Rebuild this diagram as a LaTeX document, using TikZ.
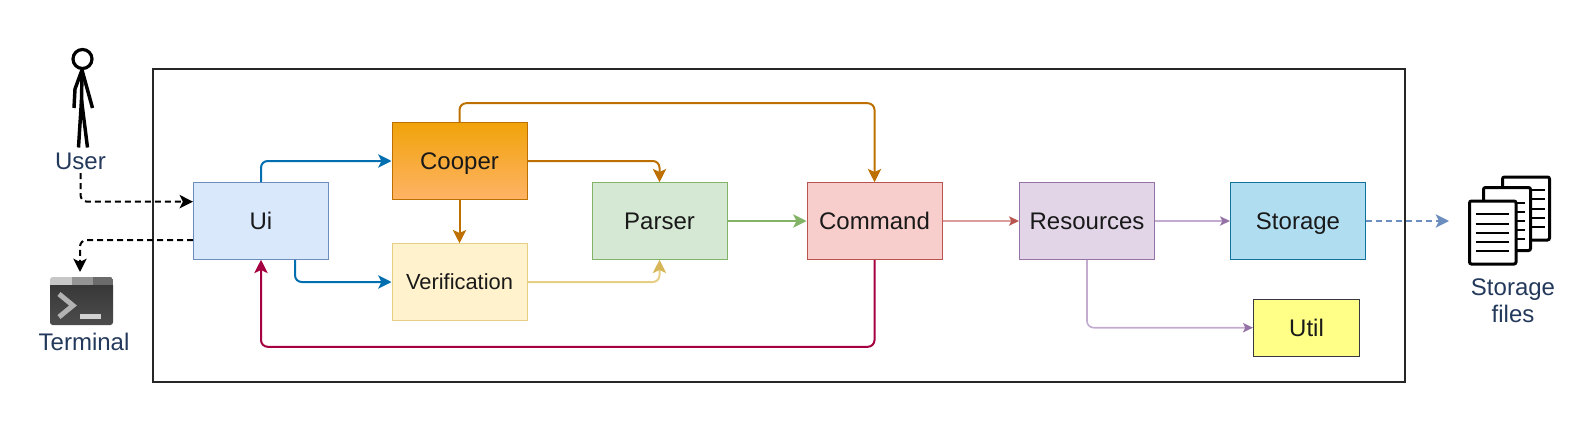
\documentclass[tikz,border=0pt]{standalone}
\usepackage{fontspec}
\setmainfont{Liberation Sans}
\usepackage{xcolor}
\usetikzlibrary{arrows.meta, calc}
\definecolor{uifill}{HTML}{DAE8FC}
\definecolor{uiline}{HTML}{6C8EBF}
\definecolor{bluelink}{HTML}{006EAF}
\definecolor{cooperline}{HTML}{BD7000}
\definecolor{coopertop}{HTML}{F0A30A}
\definecolor{cooperbot}{HTML}{FFB366}
\definecolor{verifill}{HTML}{FFF2CC}
\definecolor{veriline}{HTML}{E6CF85}
\definecolor{veritip}{HTML}{D6B656}
\definecolor{parsefill}{HTML}{D5E8D4}
\definecolor{parseline}{HTML}{82B366}
\definecolor{cmdfill}{HTML}{F8CECC}
\definecolor{cmdline}{HTML}{B85450}
\definecolor{cmdlink}{HTML}{DB9D9B}
\definecolor{redlink}{HTML}{A50040}
\definecolor{resfill}{HTML}{E1D5E7}
\definecolor{resline}{HTML}{9673A6}
\definecolor{reslink}{HTML}{C3ABCF}
\definecolor{storefill}{HTML}{B1DDF0}
\definecolor{storeline}{HTML}{10739E}
\definecolor{utilfill}{HTML}{FFFF88}
\definecolor{utilline}{HTML}{36393D}
\definecolor{outlabel}{HTML}{23395B}

\begin{document}
\begin{tikzpicture}[
    x=0.75pt, y=-0.75pt,
    >={Stealth[length=10pt,width=10pt,inset=2.4pt]},
    every node/.style={font=\fontsize{18}{21}\selectfont},
    box/.style={draw, minimum width=101.25pt, minimum height=57.4pt, line width=0.75pt, text=black!90, inner sep=0pt, text height=13pt, text depth=0pt},
    outlabel/.style={text=outlabel, align=center, inner sep=0pt},
    link/.style={->, line width=1.5pt, rounded corners=5pt},
    thinlink/.style={line width=1.2pt, rounded corners=5pt, arrows={-{Stealth[length=7.5pt,width=7pt,inset=1.7pt,#1]}}},
    dashlink/.style={->, line width=1.5pt, rounded corners=5pt, dash pattern=on 4.5pt off 3pt},
]
\useasboundingbox (0,0) rectangle (1592,443);
% outer frame
\draw[line width=1.5pt, black!85] (152.5,69) rectangle (1405,382);
% components
\node[box, draw=uiline, fill=uifill] (ui) at (261,221) {Ui};
\node[box, draw=cooperline, top color=coopertop, bottom color=cooperbot] (cooper) at (459.5,161) {Cooper};
\node[box, draw=veriline, fill=verifill, font=\fontsize{16.4}{19}\selectfont, text height=11.4pt] (verification) at (459.5,282) {Verification};
\node[box, draw=parseline, fill=parsefill] (parser) at (659.5,221) {Parser};
\node[box, draw=cmdline, fill=cmdfill] (command) at (874.5,221) {Command};
\node[box, draw=resline, fill=resfill] (resources) at (1087,221) {Resources};
\node[box, draw=storeline, fill=storefill] (storage) at (1298,221) {Storage};
\node[box, draw=utilline, fill=utilfill, minimum width=79.5pt, minimum height=42.6pt] (util) at (1306.5,327.7) {Util};
% labels outside the frame
\node[outlabel] (user) at (80.5,161.5) {User};
\node[outlabel] (terminal) at (84,342) {Terminal};
\node[outlabel, text width=80pt, font=\fontsize{18}{20.5}\selectfont] (files) at (1513,300.5) {Storage\\files};
\coordinate (termtop) at (80,272);
\coordinate (filesend) at (1449,221);
% links
\draw[link, bluelink] (ui.north) |- (cooper.west);
\draw[link, bluelink] ([xshift=25.5pt]ui.south) |- (verification.west);
\draw[link, cooperline] (cooper.north) -- ++(0,-19) -| (command.north);
\draw[link, cooperline] (cooper.east) -| (parser.north);
\draw[link, cooperline] (cooper.south) -- (verification.north);
\draw[line width=1.5pt, rounded corners=5pt, veriline, arrows={-{Stealth[length=10pt,width=10pt,inset=2.4pt,veritip]}}] (verification.east) -| (parser.south);
\draw[link, parseline] (parser.east) -- (command.west);
\draw[link, redlink] (command.south) -- ++(0,87) -| (ui.south);
\draw[thinlink=cmdline, cmdlink] (command.east) -- (resources.west);
\draw[thinlink=resline, reslink] (resources.east) -- (storage.west);
\draw[thinlink=resline, reslink] (resources.south) |- (util.west);
\draw[dashlink, uiline] (storage.east) -- (filesend);
\draw[dashlink, black] (user.south) ++(0,3) |- ([yshift=14.5pt]ui.west);
\draw[dashlink, black] ([yshift=-14.25pt]ui.west) -| (termtop);
% user figure
\draw[line width=2.4pt] (82.5,59) circle (9.5);
\draw[line width=2.6pt, line join=round] (82,70) -- (75,89) -- (74,108);
\draw[line width=2.6pt, line join=round] (82,70) -- (92.5,108);
\draw[line width=2.6pt, line join=round] (78.5,147.5) -- (81.5,100) -- (87.5,147.5);
\draw[line width=2.6pt] (82,70) -- (81.5,105);
% terminal icon
\begin{scope}
\clip[rounded corners=2pt] (50,277) rectangle (113,325);
\shade[top color=black!78, bottom color=black!70] (50,285) rectangle (113,325);
\fill[black!22] (50,277) rectangle (71.5,285);
\fill[black!42] (71.5,277) rectangle (92.5,285);
\fill[black!58] (92.5,277) rectangle (113,285);
\end{scope}
\draw[line width=3.75pt, black!30] (59,294) -- (73,305.5) -- (59,317);
\fill[black!18] (80,313.5) rectangle (100.5,319);
% file pages, back to front
\draw[line width=2.25pt, fill=white, rounded corners=1.5pt] (1502.5,177) rectangle (1549.5,240);
\foreach \y in {190.3,199.3,208.7,217.7,226.7} \draw[line width=1.5pt] (1525,\y) -- (1544.5,\y);
\draw[line width=2.25pt, fill=white, rounded corners=1.5pt] (1483.5,187.5) rectangle (1530.5,250.5);
\foreach \y in {203,212,221,230.3,239.3} \draw[line width=1.5pt] (1510,\y) -- (1525,\y);
\draw[line width=2.25pt, fill=white, rounded corners=1.5pt] (1469.5,201) rectangle (1516,264);
\foreach \y in {214.3,223.7,233,242,251} \draw[line width=1.5pt] (1475.7,\y) -- (1509,\y);
\end{tikzpicture}
\end{document}
